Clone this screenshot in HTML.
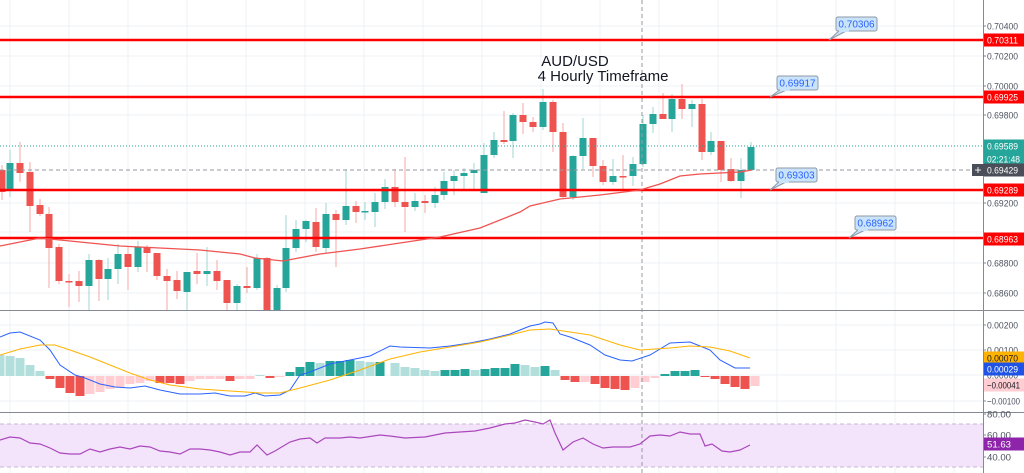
<!DOCTYPE html>
<html><head><meta charset="utf-8"><style>
body{margin:0;background:#fff;}
svg{display:block;font-family:"Liberation Sans",sans-serif;}
</style></head><body>
<svg id="s" width="1024" height="473" xmlns="http://www.w3.org/2000/svg">
<rect width="1024" height="473" fill="#fff"/>
<g id="grid"></g>
<rect x="0" y="424" width="983" height="43" fill="#f3e4fc"/>
<line x1="0" y1="424" x2="983" y2="424" stroke="#c8b6cf" stroke-dasharray="4,3"/>
<line x1="0" y1="467" x2="983" y2="467" stroke="#c8b6cf" stroke-dasharray="4,3"/>
<g id="hist"></g>
<g id="cand"></g>
<line x1="0" y1="146" x2="983" y2="146" stroke="#26a69a" stroke-dasharray="1,2" stroke-width="1"/>
<line x1="0" y1="170" x2="983" y2="170" stroke="#9598a1" stroke-dasharray="4,3" stroke-width="1"/>
<line x1="642" y1="0" x2="642" y2="473" stroke="#9598a1" stroke-dasharray="4,3" stroke-width="1"/>
<g stroke="#ff0000" stroke-width="2.5">
<line x1="0" y1="40" x2="983" y2="40"/><line x1="0" y1="97" x2="983" y2="97"/>
<line x1="0" y1="190" x2="983" y2="190"/><line x1="0" y1="238" x2="983" y2="238"/>
</g>
<polyline id="ma" fill="none" stroke="#ef5350" stroke-width="1.3"/>
<polyline id="mb" fill="none" stroke="#2962ff" stroke-width="1"/>
<polyline id="mo" fill="none" stroke="#ffb300" stroke-width="1"/>
<polyline id="rsi" fill="none" stroke="#ab47bc" stroke-width="1.2"/>
<line x1="0" y1="310.5" x2="1024" y2="310.5" stroke="#868993"/>
<line x1="0" y1="412.5" x2="1024" y2="412.5" stroke="#868993"/>
<line x1="983.5" y1="0" x2="983.5" y2="473" stroke="#868993"/>
<text x="575" y="66" font-size="15" font-weight="500" text-anchor="middle" fill="#131722">AUD/USD</text>
<text x="603" y="81" font-size="15" font-weight="500" text-anchor="middle" fill="#131722">4 Hourly Timeframe</text>
<g id="call" font-size="10" fill="#2962ff"></g>
<g id="axis" font-size="9.5"></g>
</svg>
<script>
var NS="http://www.w3.org/2000/svg";
function el(p,t,a,txt){var e=document.createElementNS(NS,t);for(var k in a)e.setAttribute(k,a[k]);if(txt!=null)e.textContent=txt;p.appendChild(e);return e;}
var g=document.getElementById('grid');
for(var x=10;x<983;x+=59)el(g,'line',{x1:x,y1:0,x2:x,y2:473,stroke:'#eef1f5'});
[26,56,86,115,203,232,263,293,325,350,375,401,435,457].forEach(function(y){el(g,'line',{x1:0,y1:y,x2:983,y2:y,stroke:'#eef1f5'});});
var C=[[2,170,192,165,200],[10,191,163,150,197],[20,163,173,142,182],[30,172,206,162,232],[40,205,214,199,216],[49,214,248,207,288],[59,247,281,244,284],[69,281,282,274,307],[79,281,286,271,302],[89,286,260,254,310],[99,260,279,259,301],[108,279,269,258,300],[118,269,254,244,284],[128,254,267,247,290],[138,267,247,241,272],[147,247,253,245,272],[157,253,276,253,280],[167,276,281,269,310],[177,280,291,271,299],[187,292,272,272,310],[197,271,274,253,284],[207,274,271,247,286],[217,271,281,260,290],[227,280,303,280,310],[237,303,286,284,310],[247,286,288,267,293],[257,288,258,254,290],[267,258,310,257,310],[277,310,288,285,310],[286,288,248,215,292],[296,248,229,220,252],[306,229,221,220,242],[316,222,247,208,252],[326,248,214,203,253],[336,214,220,210,267],[346,220,206,169,225],[356,206,212,201,223],[365,212,211,202,220],[375,212,202,193,227],[385,202,187,179,209],[395,187,202,169,207],[405,202,207,157,232],[415,207,201,193,211],[425,201,203,195,213],[435,203,195,187,208],[444,195,181,172,200],[454,181,176,170,195],[464,176,173,168,189],[474,173,170,163,190],[484,193,155,143,193],[494,155,140,132,158],[504,140,142,111,144],[513,141,115,113,158],[523,115,122,103,134],[533,122,127,117,132],[543,127,102,89,130],[553,102,132,100,152],[563,132,197,123,198],[573,197,156,155,200],[583,156,138,118,169],[593,138,166,138,177],[603,166,182,160,185],[613,182,176,159,185],[623,176,177,155,190],[633,176,164,157,186],[643,164,124,115,167],[653,124,114,107,133],[663,114,119,93,119],[672,119,99,94,132],[682,99,109,84,119],[692,109,104,100,127],[702,104,152,99,160],[711,152,141,132,155],[721,141,170,141,182],[731,169,181,158,182],[741,181,170,158,198],[751,170,147,142,170]];
var cg=document.getElementById('cand');
C.forEach(function(c){var up=c[2]<c[1];var col=up?'#26a69a':'#ef5350';var wc=up?'#9fd6cf':'#f5a9a7';
el(cg,'line',{x1:c[0],y1:c[3],x2:c[0],y2:c[4],stroke:wc,'stroke-width':1});
var t=Math.min(c[1],c[2]),h=Math.max(1.5,Math.abs(c[1]-c[2]));
el(cg,'rect',{x:c[0]-3.5,y:t,width:7,height:h,fill:col});});
function pts(id,a){document.getElementById(id).setAttribute('points',a.map(function(p){return p.join(',')}).join(' '));}
pts('ma',[[0,246],[40,238],[60,240],[120,246],[200,250],[240,254],[255,258],[283,261],[320,254],[360,249],[400,243],[440,237],[480,228],[520,212],[530,206],[560,199],[600,195],[640,190],[660,184],[680,176],[700,174],[740,172],[752,170]]);
pts('mb',[[0,337],[10,333],[20,332],[40,340],[50,350],[60,365],[75,375],[85,378],[100,384],[115,387],[130,388],[145,386],[160,390],[180,394],[200,394],[215,393],[230,396],[245,396],[255,393],[265,396],[280,395],[290,390],[300,375],[310,372],[330,364],[350,360],[370,356],[390,346],[400,347],[430,348],[450,346],[470,343],[490,339],[510,334],[520,330],[530,326],[540,324],[545,322],[553,323],[560,334],[570,337],[590,345],[605,355],[620,360],[632,361],[650,355],[670,343],[690,342],[700,346],[710,350],[720,360],[735,368],[750,368]]);
pts('mo',[[0,355],[20,349],[40,345],[55,345],[70,350],[90,357],[110,365],[130,373],[150,380],[170,385],[200,389],[230,391],[260,393],[280,393],[300,388],[330,380],[360,370],[390,359],[420,352],[450,347],[480,342],[510,335],[530,330],[550,329],[570,332],[590,335],[620,345],[640,350],[670,348],[690,346],[710,347],[730,351],[750,358]]);
pts('rsi',[[0,440],[10,437],[20,438],[30,443],[40,444],[50,448],[60,453],[70,454],[80,454],[90,449],[100,452],[110,449],[120,447],[130,449],[140,446],[150,447],[160,451],[170,452],[180,454],[190,449],[200,449],[210,450],[220,452],[230,455],[240,452],[250,452],[257,445],[267,455],[275,451],[290,442],[300,439],[310,438],[317,443],[325,438],[340,438],[350,437],[360,438],[380,435],[390,436],[405,438],[425,437],[445,433],[460,432],[475,431],[490,428],[505,424],[515,423],[525,420],[535,422],[543,424],[550,420],[555,433],[563,450],[573,442],[583,438],[593,444],[603,448],[613,447],[630,447],[640,444],[650,436],[660,435],[670,436],[680,432],[690,434],[700,434],[705,446],[712,444],[722,451],[730,452],[740,450],[750,445]]);
var H1=[[355,'L'],[356,'L'],[358,'L'],[365,'L'],[371,'L'],[379,'R'],[388,'R'],[393,'R'],[396,'R'],[394,'P'],[392,'P'],[389,'P'],[387,'P'],[384,'P'],[383,'P'],[381,'P'],[383,'R'],[383,'R'],[384,'R'],[381,'P'],[379,'P'],[379,'P'],[379,'P'],[381,'R'],[379,'P'],[379,'P'],[375,'L'],[378,'R'],[377,'P'],[372,'T'],[367,'T'],[362,'T'],[363,'L'],[361,'T'],[361,'T'],[360,'T'],[361,'L'],[362,'L'],[362,'T']];
var H2=[[363,'L'],[367,'L'],[368,'L'],[370,'L'],[371,'L'],[370,'T'],[370,'T'],[369,'T'],[370,'L'],[369,'T'],[368,'T'],[368,'T'],[364,'T'],[365,'L'],[367,'L'],[366,'T'],[370,'L'],[380,'R'],[382,'R'],[382,'P'],[384,'R'],[388,'R'],[389,'R'],[390,'R'],[388,'P'],[382,'P'],[378,'P'],[374,'T'],[371,'T'],[371,'T'],[370,'T'],[377,'R'],[379,'R'],[384,'R'],[387,'R'],[389,'R'],[386,'P']];
var cols={T:'#26a69a',L:'#b2dfdb',R:'#ef5350',P:'#ffcdd2'};
var hg=document.getElementById('hist'),B=376;
function hb(x,v){var y=v[0],t=Math.min(y,B),h=Math.max(1,Math.abs(y-B));el(hg,'rect',{x:x+0.5,y:t,width:9,height:h,fill:cols[v[1]]});}
H1.forEach(function(v,i){hb(i*10-5,v);});
H2.forEach(function(v,i){hb(390+i*10,v);});
var cl=document.getElementById('call');
[[836,17,829,40,'0.70306'],[777,76,770,97,'0.69917'],[776,168,770,190,'0.69303'],[855,216,849,238,'0.68962']].forEach(function(c){
el(cl,'polygon',{points:(c[0]+4)+','+(c[1]+13)+' '+c[2]+','+c[3]+' '+(c[0]+12)+','+(c[1]+13),fill:'#c9e3fb',stroke:'#8e9aa6'});
el(cl,'rect',{x:c[0],y:c[1],width:41,height:14,rx:2,fill:'#c9e3fb',stroke:'#8e9aa6'});
el(cl,'rect',{x:c[0]+3,y:c[1]+12,width:10,height:3,fill:'#c9e3fb'});
el(cl,'text',{x:c[0]+20.5,y:c[1]+10.5,'text-anchor':'middle'},c[4]);});
var ax=document.getElementById('axis');
function lbl(y,t,fill){var w=t.length>7?33:31;if(t.length<=5)w=24;return el(ax,'text',{x:987,y:y+3.5,fill:fill,textLength:w,lengthAdjust:'spacingAndGlyphs'},t);}
[[26,'0.70400'],[56,'0.70200'],[86,'0.70000'],[115,'0.69800'],[203,'0.69200'],[263,'0.68800'],[293,'0.68600'],[325,'0.00200'],[350,'0.00100'],[375,'0.00000'],[401,'\u22120.00100'],[414,'80.00'],[435,'60.00'],[457,'40.00']].forEach(function(a){
el(ax,'line',{x1:983,y1:a[0],x2:986,y2:a[0],stroke:'#868993'});
lbl(a[0],a[1],'#4c525e');});
[[40,'#ff0000','#fff','0.70311'],[97,'#ff0000','#fff','0.69925'],[146,'#26a69a','#fff','0.69589'],[159,'#26a69a','#fff','02:21:48'],[170,'#4a4e58','#fff','0.69429'],[190,'#ff0000','#fff','0.69289'],[239,'#ff0000','#fff','0.68963'],[358,'#ffb300','#131722','0.00070'],[369,'#1e53e5','#fff','0.00029'],[385,'#ffcdd2','#131722','\u22120.00041'],[444,'#8e24aa','#fff','51.63']].forEach(function(a){
el(ax,'rect',{x:984,y:a[0]-6.5,width:40,height:13,fill:a[1]});
lbl(a[0],a[3],a[2]);});
el(ax,'rect',{x:972,y:164,width:12,height:12,fill:'#4a4e58'});
el(ax,'text',{x:978,y:174,fill:'#fff','text-anchor':'middle','font-size':12},'+');
</script>
</body></html>
